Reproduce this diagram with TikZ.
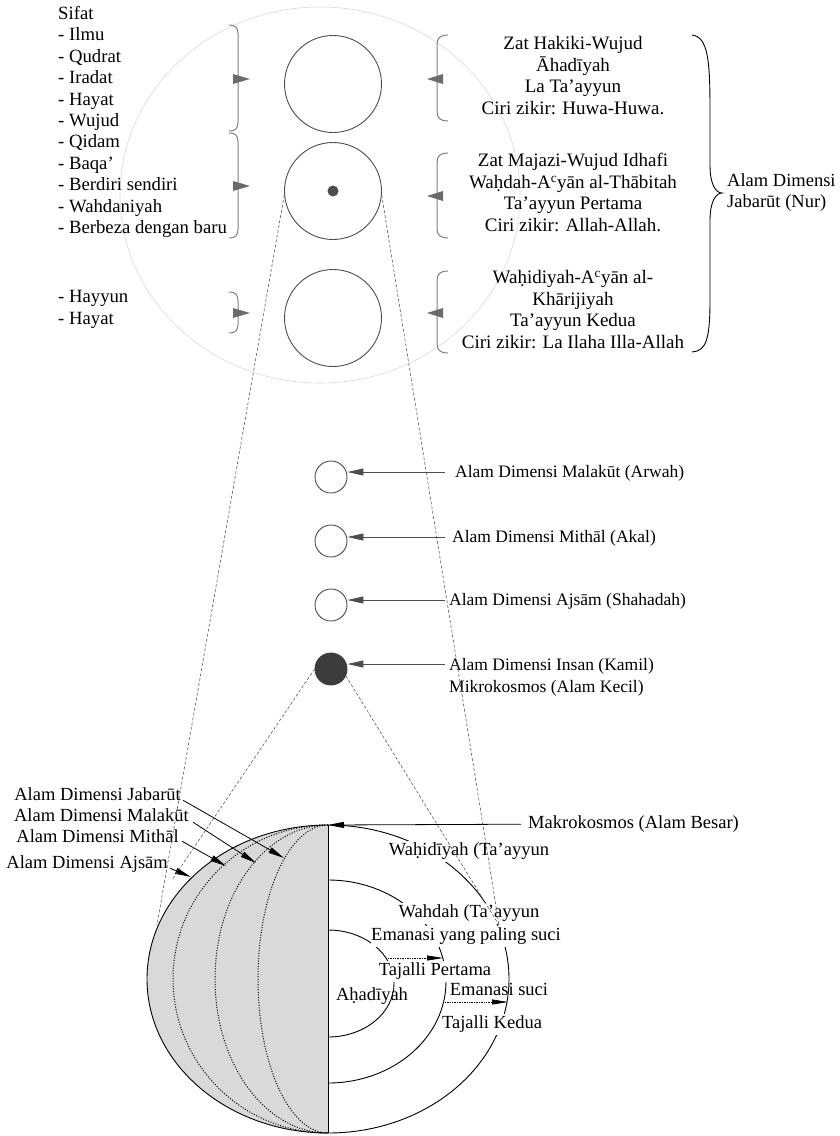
\documentclass[tikz,border=0pt]{standalone}
\usepackage{fontspec}
\setmainfont{Liberation Serif}
\usetikzlibrary{arrows.meta}
\newcommand{\supc}{\textsuperscript{c}}
\definecolor{dg}{HTML}{4D4D4D}
\definecolor{brc}{HTML}{808080}
\definecolor{trig}{HTML}{6B6B6B}
\definecolor{faintc}{HTML}{D9D9D9}
\definecolor{halffill}{HTML}{D9D9D9}
\definecolor{dashc}{HTML}{5A5A5A}
\definecolor{insanc}{HTML}{3C3C3C}
\begin{document}
\begin{tikzpicture}[x=1pt,y=-1pt,
  txt/.style={font=\fontsize{#1}{21.4}\selectfont, inner sep=0pt,
    execute at begin node=\strut, execute at end node=\strut},
  txt/.default=18.5,
  wtxt/.style={txt, fill=white},
  topcirc/.style={circle, draw=dg, line width=0.9pt, minimum size=97pt, inner sep=0pt},
  smallcirc/.style={circle, draw=dg, line width=0.9pt, minimum size=32pt, inner sep=0pt},
  bracegray/.style={draw=brc, line width=1pt},
  tri/.style={fill=trig},
  garrow/.style={draw=dg, line width=0.9pt, -{Triangle[length=16pt,width=7pt,fill=dg]}},
  barrow/.style={draw=black, line width=0.8pt, -{Triangle[length=16pt,width=6pt]}},
  darrow/.style={draw=black, line width=0.7pt, densely dotted, -{Triangle[length=16pt,width=5pt,sep=0pt]}},
  dashline/.style={draw=dashc, line width=0.6pt, dash pattern=on 3pt off 2pt},
  dotcurve/.style={draw=black, line width=1pt, dash pattern=on 1pt off 1.6pt}
]
\useasboundingbox (0,0) rectangle (840,1136);

% ---------- top region ----------
\draw[faintc, line width=0.6pt] (320,195) ellipse [x radius=200, y radius=188];

\node[topcirc] (c1) at (333,84) {};
\node[topcirc] (c2) at (333,191) {};
\node[topcirc] (c3) at (333,318) {};
\fill[dg] (c2.center) circle (5.5);

% left braces with triangles
\foreach \ya/\yb/\ym in {25/131/79, 133/238/186, 292/333/313} {
  \draw[bracegray] (229,\ya) .. controls (236,\ya) and (238,\ya+3) .. (238,\ya+9)
     -- (238,\yb-9) .. controls (238,\yb-3) and (236,\yb) .. (229,\yb);
  \fill[tri] (233,\ym-5) -- (250,\ym) -- (233,\ym+5) -- cycle;
}
% right braces with triangles
\foreach \ya/\yb/\ym in {35/121/79, 153/238/196, 271/353/313} {
  \draw[bracegray] (448,\ya) .. controls (440,\ya) and (437,\ya+3) .. (437,\ya+10)
     -- (437,\yb-10) .. controls (437,\yb-3) and (440,\yb) .. (448,\yb);
  \fill[tri] (443,\ym-5) -- (427,\ym) -- (443,\ym+5) -- cycle;
}
% big brace
\draw[black, line width=0.9pt] (692,35) .. controls (708,37) and (710,60) .. (710,110)
   -- (710,165) .. controls (710,185) and (716,193) .. (722,193)
   .. controls (716,193) and (710,201) .. (710,221)
   -- (710,300) .. controls (710,340) and (706,351) .. (692,352);

\node[txt=18.7, align=left, anchor=west] (sifat) at (58,123.2)
  {Sifat\\- Ilmu\\- Qudrat\\- Iradat\\- Hayat\\- Wujud\\- Qidam\\- Baqa’\\- Berdiri sendiri\\- Wahdaniyah\\- Berbeza dengan baru};
\node[txt=18.7, align=left, anchor=west] (hayyun) at (58,310.7) {- Hayyun\\- Hayat};

\node[txt=19, align=center] (r1) at (573,78.7)
  {Zat Hakiki-Wujud\\Āhadīyah\\La Ta’ayyun\\Ciri zikir: Huwa-Huwa.};
\node[txt=19, align=center] (r2) at (573,195.5)
  {Zat Majazi-Wujud Idhafi\\Waḥdah-A\supc yān al-Thābitah\\Ta’ayyun Pertama\\Ciri zikir: Allah-Allah.};
\node[txt=19, align=center] (r3) at (573,312.7)
  {Waḥidiyah-A\supc yān al-\\Khārijiyah\\Ta’ayyun Kedua\\Ciri zikir: La Ilaha Illa-Allah};
\node[txt=18.5, align=left, anchor=west] (jab) at (727,193.7) {Alam Dimensi\\Jabarūt (Nur)};

% ---------- middle region ----------
\node[smallcirc] (m1) at (331,477) {};
\node[smallcirc] (m2) at (331,541) {};
\node[smallcirc] (m3) at (331,605) {};
\node[smallcirc, fill=insanc, draw=insanc] (m4) at (331,669) {};

\node[txt=17.5, anchor=west] (l1) at (455,473.2) {Alam Dimensi Malakūt (Arwah)};
\node[txt=17.5, anchor=west] (l2) at (452,538.2) {Alam Dimensi Mithāl (Akal)};
\node[txt=17.5, anchor=west] (l3) at (449,601.2) {Alam Dimensi Ajsām (Shahadah)};
\node[txt=17.5, anchor=west, align=left] (l4) at (449,678.7) {Alam Dimensi Insan (Kamil)\\Mikrokosmos (Alam Kecil)};

\draw[garrow] (445,472) coordinate (s1) -- (s1 -| m1.east);
\draw[garrow] (445,537) coordinate (s2) -- (s2 -| m2.east);
\draw[garrow] (445,600) coordinate (s3) -- (s3 -| m3.east);
\draw[garrow] (445,664) coordinate (s4) -- (s4 -| m4.east);

% ---------- bottom region ----------
\coordinate (ptop) at (328,825);
\coordinate (pbot) at (328,1133);
\fill[halffill] (ptop) arc[start angle=270, end angle=90, x radius=181, y radius=154] -- cycle;
\draw[dotcurve] (ptop) arc[start angle=270, end angle=90, x radius=155, y radius=154];
\draw[dotcurve] (ptop) arc[start angle=270, end angle=90, x radius=113, y radius=154];
\draw[dotcurve] (ptop) arc[start angle=270, end angle=90, x radius=70, y radius=154];
\draw[black, line width=0.9pt] (328,979) ellipse [x radius=181, y radius=154];
\draw[black, line width=0.9pt] (ptop) -- (pbot);
\draw[black, line width=0.9pt] (328,880) arc[start angle=270, end angle=450, x radius=118, y radius=101.5];
\draw[black, line width=0.9pt] (328,930) arc[start angle=270, end angle=450, x radius=66, y radius=53.5];

\node[txt, anchor=west] (mak) at (528,824.2) {Makrokosmos (Alam Besar)};
\node[wtxt] (wah) at (469,851.2) {Waḥidīyah (Ta’ayyun};
\node[wtxt] (wahd) at (469,913.2) {Wahdah (Ta’ayyun};
\node[wtxt] (ema1) at (466,936.2) {Emanasi yang paling suci};
\node[wtxt] (taj1) at (435,971.2) {Tajalli Pertama};
\node[txt] (aha) at (372,996.2) {Aḥadīyah};
\node[txt] (ema2) at (499,991.2) {Emanasi suci};
\node[wtxt] (taj2) at (492,1024.2) {Tajalli Kedua};

\coordinate (d1s) at (388,958);
\coordinate (d1e) at (443,958);
\coordinate (d2s) at (445,1002);
\coordinate (d2e) at (508,1002);
\draw[darrow] (d1s) -- (d1e);
\draw[darrow] (d2s) -- (d2e);

\draw[barrow] ([xshift=-7pt]mak.west) -- (ptop);

\node[txt, anchor=east] (bj) at (181,796.2) {Alam Dimensi Jabarūt};
\node[txt, anchor=east] (bm) at (189,817.2) {Alam Dimensi Malakūt};
\node[txt, anchor=east] (bi) at (179,838.2) {Alam Dimensi Mithāl};
\node[txt, anchor=east] (ba) at (168,864.2) {Alam Dimensi Ajsām};
\coordinate (tj) at (284,858);
\coordinate (tm) at (256,863);
\coordinate (ti) at (226,866);
\coordinate (ta) at (191,877);
\draw[barrow] ([shift={(2,4)}]bj.east) -- (tj);
\draw[barrow] ([shift={(4,5)}]bm.east) -- (tm);
\draw[barrow] ([shift={(3,3)}]bi.east) -- (ti);
\draw[barrow] ([shift={(2,4)}]ba.east) -- (ta);

% ---------- dashed projection lines ----------
\coordinate (convR) at (499,925);
\coordinate (convL) at (157,925);
\coordinate (ajs) at (172,880);
\draw[dashline] (c2.185) -- (convL);
\draw[dashline] (c2.-5) -- (convR);
\draw[dashline] (m4.180) -- (ajs);
\draw[dashline] (m4.-25) -- (convR);
\end{tikzpicture}
\end{document}
